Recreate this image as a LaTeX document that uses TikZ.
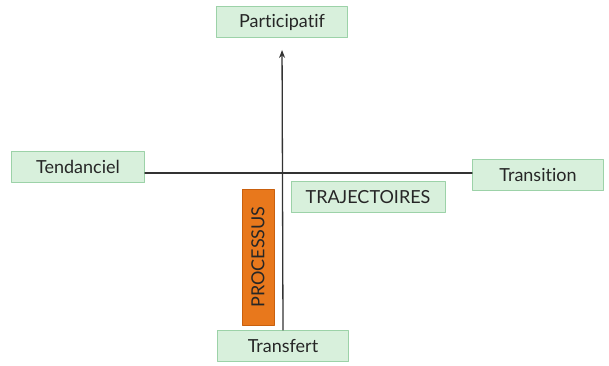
\documentclass[tikz,border=0pt]{standalone}
\usepackage{fontspec}
\setmainfont{Lato}[Ligatures={NoCommon,NoContextual}]
\usetikzlibrary{arrows.meta,positioning}
\definecolor{boxfill}{HTML}{D8F0DC}
\definecolor{boxline}{HTML}{9CD2A8}
\definecolor{procfill}{HTML}{E8781C}
\definecolor{procline}{HTML}{C9600E}
\definecolor{axisline}{HTML}{333333}
\tikzstyle{every node}=[font=\fontsize{18}{21}\selectfont,text=black!85]
\tikzstyle{every path}=[line cap=round,line join=round]
\tikzset{
  pole/.style={draw=boxline,line width=0.9pt,fill=boxfill,minimum width=131pt,minimum height=31pt,inner sep=0pt},
  procbox/.style={draw=procline,line width=0.9pt,fill=procfill,minimum width=136pt,minimum height=32pt,inner sep=0pt,rotate=90},
  axis/.style={draw=axisline,line width=1.3pt}
}
\begin{document}
\begin{tikzpicture}[x=1pt,y=-1pt]
	% frame of the picture
	\useasboundingbox (0,0) rectangle (609,365);
	\coordinate (O) at (283,173); %O= crossing of the two axes
	% Poles
	\node[pole] (Part) at (282,22) {Participatif};
	\node[pole] (Transf) at (283,346) {Transfert};
	\node[pole,minimum width=133pt] (Tend) at (78,167) {Tendanciel};
	\node[pole] (Trans) at (538,175) {Transition};
	% Labels of the quadrant
	\node[pole,minimum width=154pt] (Traj) at (368,197) {TRAJECTOIRES};
	\node[procbox] (Proc) at (258,257) {PROCESSUS};
	% Axes
	\draw[axis,-{Stealth[length=8pt,width=6pt]},shorten >=12pt] (Transf.north) -- (Part.south);
	\draw[axis] (Tend.east |- O) -- (Trans.west |- O);
\end{tikzpicture}
\end{document}
